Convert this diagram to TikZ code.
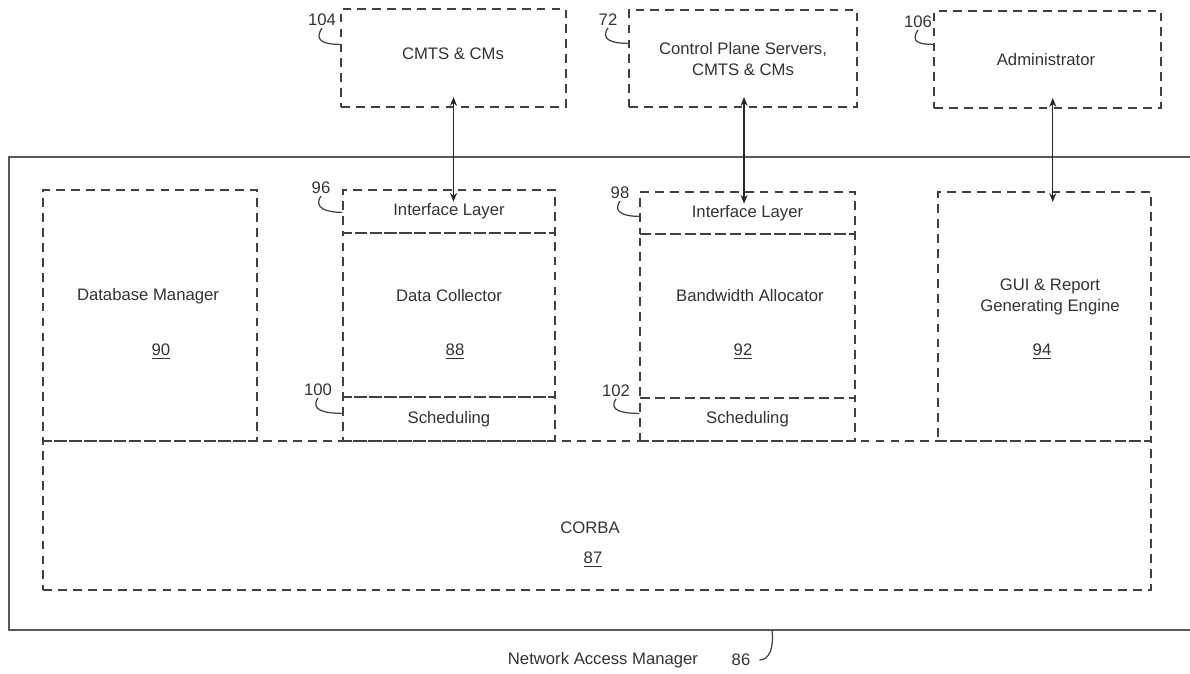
\documentclass[tikz,border=0pt]{standalone}
\usepackage{fontspec}
\setmainfont{Liberation Sans}
\usetikzlibrary{arrows.meta, positioning, calc}

\tikzset{
  blk/.style={draw=black!75, line width=0.7pt, dash pattern=on 5pt off 3.5pt, inner sep=0pt,
    font=\fontsize{9.5}{12}\selectfont, text=black!80, align=center},
  txt/.style={font=\fontsize{9.5}{12}\selectfont, text=black!80, align=center, inner sep=1pt},
  hook/.style={draw=black!75, line width=0.7pt},
  biarrow/.style={draw=black!85, line width=0.7pt, {Stealth[length=5pt,width=4pt]}-{Stealth[length=5pt,width=4pt]}},
}

\begin{document}
\begin{tikzpicture}[x=0.02cm, y=-0.02cm]
\useasboundingbox (0,0) rectangle (1190,673);

% network access manager frame
\draw[black!65, line width=1.1pt] (1200,157) -- (9,157) -- (9,630) -- (1200,630);
\coordinate (nambot) at (772,630);

% outside boxes
\node[blk, minimum width=4.5cm, minimum height=1.96cm] (cmts) at (453.5,58) {};
\node[blk, minimum width=4.56cm, minimum height=1.94cm] (cps) at (743,58.5) {};
\node[blk, minimum width=4.54cm, minimum height=1.94cm] (admin) at (1047.5,59.5) {};
\node[txt] (cmtstxt) at (453,54) {CMTS \& CMs};
\node[txt] (cpstxt) at (743,59) {Control Plane Servers,\\CMTS \& CMs};
\node[txt] (admintxt) at (1046,60) {Administrator};

% modules
\node[blk, minimum width=4.28cm, minimum height=5.02cm] (dbm) at (150,315.5) {};
\node[blk, minimum width=4.24cm, minimum height=0.86cm] (ifl1) at (449,211.5) {Interface Layer};
\node[blk, minimum width=4.24cm, minimum height=3.28cm] (dc) at (449,315) {};
\node[blk, minimum width=4.24cm, minimum height=0.88cm] (sch1) at (449,419) {Scheduling};
\node[blk, minimum width=4.3cm, minimum height=0.84cm] (ifl2) at (747.5,213) {Interface Layer};
\node[blk, minimum width=4.3cm, minimum height=3.28cm] (ba) at (747.5,316) {};
\node[blk, minimum width=4.3cm, minimum height=0.86cm] (sch2) at (747.5,419.5) {Scheduling};
\node[blk, minimum width=4.26cm, minimum height=4.98cm] (gui) at (1044.5,316.5) {};
\node[blk, minimum width=22.16cm, minimum height=2.98cm] (corba) at (597,515.5) {};

\node[txt] (dbmtxt) at (148,296) {Database Manager};
\node[txt] (dbmnum) at (161,352) {\underline{90}};
\node[txt] (dctxt) at (449,296) {Data Collector};
\node[txt] (dcnum) at (455,352) {\underline{88}};
\node[txt] (batxt) at (750,296) {Bandwidth Allocator};
\node[txt] (banum) at (743,352) {\underline{92}};
\node[txt] (guitxt) at (1050,297) {GUI \& Report\\Generating Engine};
\node[txt] (guinum) at (1042,352) {\underline{94}};
\node[txt] (corbatxt) at (590,528) {CORBA};
\node[txt] (corbanum) at (593,560) {\underline{87}};

\node[txt] (namtxt) at (603,660) {Network Access Manager};
\node[txt] (n86) at (741,660) {86};

% reference numbers
\node[txt] (n104) at (322,20) {104};
\node[txt] (n72) at (608,20) {72};
\node[txt] (n106) at (918,22) {106};
\node[txt] (n96) at (321,188) {96};
\node[txt] (n98) at (620,193) {98};
\node[txt] (n100) at (318,390) {100};
\node[txt] (n102) at (616,391) {102};

\draw[hook] (n104.south) .. controls +(-8,12) and +(-18,0) .. ($(cmts.north west)+(0,36)$);
\draw[hook] (n72.south) .. controls +(-8,12) and +(-16,0) .. ($(cps.north west)+(0,34)$);
\draw[hook] (n106.south) .. controls +(-8,12) and +(-14,0) .. ($(admin.north west)+(0,34)$);
\draw[hook] (n96.south) .. controls +(-8,12) and +(-16,0) .. ($(ifl1.north west)+(0,23)$);
\draw[hook] (n98.south) .. controls +(-8,12) and +(-14,0) .. ($(ifl2.north west)+(0,25)$);
\draw[hook] (n100.south) .. controls +(-8,12) and +(-18,0) .. ($(sch1.north west)+(0,17)$);
\draw[hook] (n102.south) .. controls +(-8,12) and +(-16,0) .. ($(sch2.north west)+(0,16)$);
\draw[hook] (nambot) .. controls +(2,18) and +(10,0) .. ([xshift=4pt]n86.east);

% links
\draw[biarrow] ([yshift=6pt]cmts.south) -- ([yshift=-7pt]cmts.south |- ifl1.north);
\draw[biarrow] ([xshift=0.6pt,yshift=6pt]cps.south) -- ([xshift=0.6pt,yshift=-7pt]cps.south |- ifl2.north);
\draw[biarrow] ([xshift=3pt,yshift=6pt]admin.south) -- ([xshift=3pt,yshift=-6pt]admin.south |- gui.north);
\end{tikzpicture}
\end{document}
